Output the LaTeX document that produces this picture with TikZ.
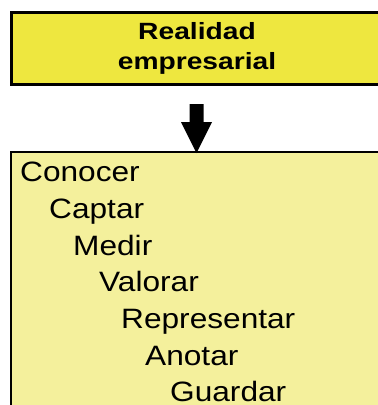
\documentclass[tikz,border=0pt]{standalone}
\usepackage{fontspec}
\setmainfont{Liberation Sans}
\newfontfamily\titlefont[FakeStretch=1.2]{Liberation Sans}
\newfontfamily\listfont[FakeStretch=1.13]{Liberation Sans}
\definecolor{titlefill}{HTML}{EEE73F}
\definecolor{listfill}{HTML}{F4F09C}
\begin{document}
\begin{tikzpicture}[x=1pt,y=-1pt,
  titlebox/.style={draw=black, line width=3pt, fill=titlefill, rectangle, inner sep=0pt, anchor=north west},
  listbox/.style={draw=black, line width=2pt, fill=listfill, rectangle, inner sep=0pt, anchor=north west},
  titletext/.style={inner sep=0pt, anchor=base, font=\titlefont\bfseries\fontsize{23.5}{28}\selectfont},
  item/.style={inner sep=0pt, anchor=base west, font=\listfont\fontsize{28}{32}\selectfont}]
\useasboundingbox (0,0) rectangle (378,405);
\node[titlebox, minimum width=390pt, minimum height=72pt] (top) at (10,11) {};
\node[titletext] (t1) at (197,39.3) {Realidad};
\node[titletext] (t2) at (197,69.3) {empresarial};
\node[listbox, minimum width=400pt, minimum height=300pt] (list) at (10,151) {};
\coordinate (arrowtop) at (196.5,104);
\coordinate (arrowtip) at (196.5,153);
\fill[black] (arrowtop) ++(-7,0) -- ++(14,0) -- ++(0,18) -- ++(8.5,0) -- (arrowtip) -- ++(-15.5,-31) -- ++(8.5,0) -- cycle;
\node[item] (i1) at (20,181.7) {Conocer};
\node[item] (i2) at (49,218.4) {Captar};
\node[item] (i3) at (73,255) {Medir};
\node[item] (i4) at (99,291.7) {Valorar};
\node[item] (i5) at (121,328.4) {Representar};
\node[item] (i6) at (145,365) {Anotar};
\node[item] (i7) at (170,401.7) {Guardar};
\end{tikzpicture}
\end{document}
